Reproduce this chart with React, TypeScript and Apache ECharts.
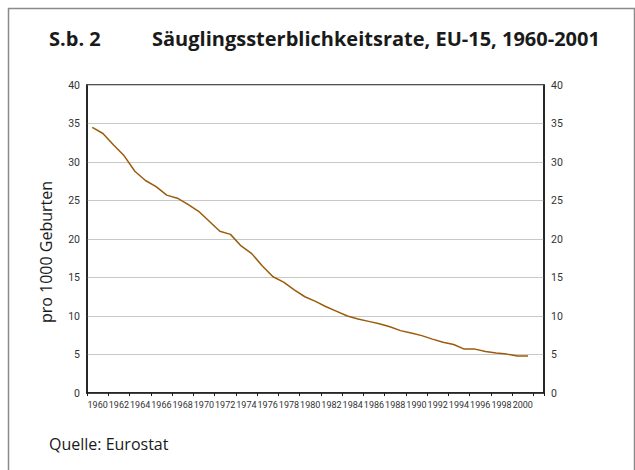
import React, { useEffect, useRef } from "react";
import * as echarts from "echarts";

const years: string[] = [
  "1960","1961","1962","1963","1964","1965","1966","1967","1968","1969",
  "1970","1971","1972","1973","1974","1975","1976","1977","1978","1979",
  "1980","1981","1982","1983","1984","1985","1986","1987","1988","1989",
  "1990","1991","1992","1993","1994","1995","1996","1997","1998","1999",
  "2000","2001","2002",
];

const rate: (number | null)[] = [
  34.5, 33.7, 32.2, 30.8, 28.8, 27.6, 26.8, 25.7, 25.3, 24.5,
  23.6, 22.3, 21.0, 20.6, 19.1, 18.1, 16.5, 15.1, 14.4, 13.4,
  12.5, 11.9, 11.2, 10.6, 10.0, 9.6, 9.3, 9.0, 8.6, 8.1,
  7.8, 7.45, 7.0, 6.6, 6.3, 5.7, 5.7, 5.4, 5.2, 5.05,
  4.8, 4.8, null,
];

// tick labels shown under each pair of years (1960, 1962, ... 2000)
const xTickLabels: string[] = [
  "1960","1962","1964","1966","1968","1970","1972","1974","1976","1978",
  "1980","1982","1984","1986","1988","1990","1992","1994","1996","1998","2000",
];

const yTicks = { min: 0, max: 40, interval: 5 };

const titleNo = "S.b. 2";
const titleText = "Säuglingssterblichkeitsrate, EU-15, 1960-2001";
const yName = "pro 1000 Geburten";
const source = "Quelle: Eurostat";

const narrow = "Roboto, 'Liberation Sans', sans-serif";
const sans = "'Open Sans', 'Noto Sans', sans-serif";

export default function App() {
  const ref = useRef<HTMLDivElement>(null);
  useEffect(() => {
    if (!ref.current) return;
    const chart = echarts.init(ref.current, null, { renderer: "svg" });
    const yAxisBase = {
      type: "value" as const,
      min: yTicks.min,
      max: yTicks.max,
      interval: yTicks.interval,
      axisLine: { show: true, lineStyle: { color: "#1a1a1a", width: 1.5 } },
      axisTick: { show: false },
      axisLabel: { fontSize: 10.5, fontFamily: narrow, color: "#333", margin: 7 },
    };
    chart.setOption({
      animation: false,
      backgroundColor: "#fff",
      grid: {
        left: 87,
        top: 85,
        right: 91,
        bottom: 77,
        show: true,
        borderColor: "#1a1a1a",
        borderWidth: 1.5,
        outerBoundsMode: "none",
      },
      xAxis: [
        {
          type: "category",
          data: years,
          boundaryGap: true,
          axisLine: { lineStyle: { color: "#1a1a1a", width: 1.5 } },
          axisTick: { show: true, interval: 1, length: 3, lineStyle: { color: "#1a1a1a" } },
          axisLabel: { show: false },
          splitLine: { show: false },
        },
        {
          // label-only axis: one unit per year, labels centred on each pair of years
          type: "value",
          position: "bottom",
          min: 0,
          max: years.length,
          interval: 1,
          axisLine: { show: false },
          axisTick: { show: false },
          splitLine: { show: false },
          axisLabel: {
            fontSize: 9,
            fontFamily: narrow,
            color: "#333",
            margin: 7,
            hideOverlap: false,
            showMinLabel: true,
            showMaxLabel: true,
            formatter: (v: number) => {
              if (v % 2 !== 1) return "";
              const i = (v - 1) / 2;
              return xTickLabels[i] ?? "";
            },
          },
        },
      ],
      yAxis: [
        { ...yAxisBase, position: "left", splitLine: { show: true, lineStyle: { color: "#c8c8c8", width: 1.2 } } },
        { ...yAxisBase, position: "right", splitLine: { show: false } },
      ],
      series: [
        {
          type: "line",
          data: rate,
          xAxisIndex: 0,
          yAxisIndex: 0,
          symbol: "none",
          lineStyle: { color: "#9a5c0a", width: 1.5 },
          itemStyle: { color: "#9a5c0a" },
        },
      ],
      graphic: [
        {
          type: "rect",
          shape: { x: 8.5, y: 8.5, width: 626, height: 520 },
          style: { fill: "none", stroke: "#8a8a8a", lineWidth: 1.5 },
          silent: true,
        },
        {
          type: "text",
          x: 49,
          y: 38,
          style: { text: titleNo, font: `bold 20px ${sans}`, fill: "#1a1a1a", verticalAlign: "middle", align: "left" },
        },
        {
          type: "text",
          x: 152,
          y: 38,
          style: { text: titleText, font: `bold 20px ${sans}`, fill: "#1a1a1a", verticalAlign: "middle", align: "left" },
        },
        {
          type: "text",
          x: 46,
          y: 252,
          rotation: Math.PI / 2,
          style: { text: yName, font: `16px ${sans}`, fill: "#1a1a1a", verticalAlign: "middle", align: "center" },
        },
        {
          type: "text",
          x: 49,
          y: 444,
          style: { text: source, font: `16px ${sans}`, fill: "#1a1a1a", verticalAlign: "middle", align: "left" },
        },
      ],
    });
    return () => chart.dispose();
  }, []);
  return (
    <div
      ref={ref}
      style={{ position: "absolute", left: 0, top: 0, width: 635, height: 470 }}
    />
  );
}
